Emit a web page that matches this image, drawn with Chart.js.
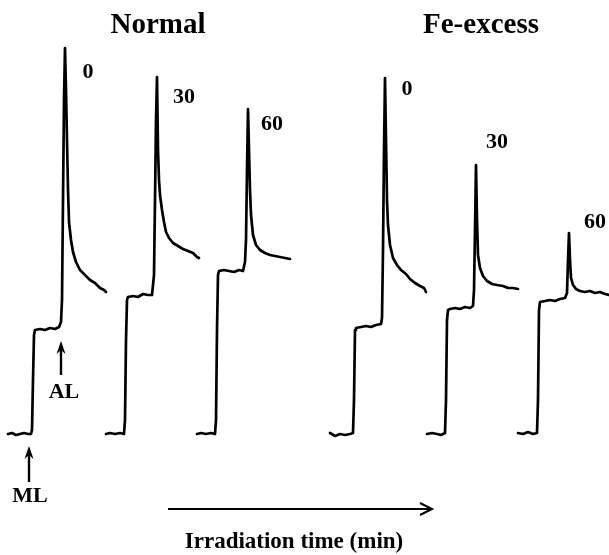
<!DOCTYPE html>
<html>
<head>
<meta charset="utf-8">
<script src="https://cdn.jsdelivr.net/npm/chart.js@4"></script>
<style>
  html, body { margin: 0; padding: 0; background: #fff; }
  #wrap { width: 609px; height: 555px; }
</style>
</head>
<body>
<div id="wrap"><canvas id="chart" width="609" height="555"></canvas></div>
<script>
// Fluorescence traces (relative time, fluorescence above dark baseline, arbitrary units)
const normal0Time = [0, 4, 8, 12, 16, 20, 23, 24, 25, 26, 27, 32, 37, 42, 47, 51, 53, 54, 55, 56, 57, 58, 59, 60, 61, 63, 65, 68, 72, 77, 82, 87, 92, 96, 98];
const normal0F = [0, 1, -1, 0, 1, 0, 0, 4, 54, 99, 104, 105, 104, 106, 105, 107, 112, 134, 234, 334, 386, 344, 294, 244, 212, 194, 182, 172, 164, 159, 154, 151, 146, 144, 142];

const normal30Time = [0, 4, 9, 14, 18, 19, 20, 21, 22, 27, 32, 37, 42, 46, 47, 48, 49, 50, 51, 52, 53, 54, 56, 58, 60, 63, 67, 72, 77, 82, 87, 91, 93];
const normal30F = [0, 1, 0, 1, 0, 14, 94, 134, 137, 138, 137, 140, 139, 139, 149, 159, 234, 314, 357, 284, 254, 239, 224, 212, 202, 196, 191, 188, 185, 183, 181, 177, 176];

const normal60Time = [0, 4, 9, 14, 18, 19, 20, 21, 22, 27, 32, 37, 42, 46, 48, 49, 50, 51, 52, 53, 54, 56, 59, 63, 68, 73, 78, 83, 88, 93];
const normal60F = [0, 1, 0, 1, 0, 14, 104, 159, 163, 164, 163, 162, 164, 163, 172, 194, 264, 325, 284, 244, 219, 199, 189, 184, 181, 179, 178, 177, 176, 175];

const fe0Time = [0, 5, 10, 15, 20, 23, 24, 25, 26, 31, 36, 41, 46, 51, 52, 53, 54, 55, 56, 57, 58, 60, 63, 67, 71, 76, 80, 85, 90, 94, 96];
const fe0F = [1, -2, 0, -1, 0, 1, 34, 104, 106, 107, 108, 107, 109, 110, 116, 184, 284, 356, 294, 234, 209, 189, 176, 169, 164, 160, 155, 151, 148, 146, 142];

const fe30Time = [0, 5, 10, 14, 18, 19, 20, 21, 23, 28, 33, 38, 43, 46, 47, 48, 49, 50, 51, 53, 56, 60, 65, 70, 76, 81, 86, 91];
const fe30F = [0, 1, 0, -1, 1, 34, 114, 124, 125, 126, 125, 127, 126, 128, 144, 204, 269, 214, 179, 166, 158, 153, 150, 149, 148, 146, 146, 145];

const fe60Time = [0, 5, 10, 15, 19, 20, 21, 22, 27, 32, 37, 42, 47, 49, 50, 51, 52, 53, 55, 58, 62, 67, 72, 77, 82, 87, 91];
const fe60F = [1, 0, 2, 0, 1, 34, 124, 132, 133, 134, 133, 135, 136, 141, 174, 201, 174, 156, 149, 145, 143, 142, 143, 141, 142, 140, 139];

// Irradiation time labels (min)
const timeLabels = ['0', '30', '60', '0', '30', '60'];
const groupTitles = ['Normal', 'Fe-excess'];
const axisTitle = 'Irradiation time (min)';

// Layout: where each trace starts along the x axis, and label anchors
const traceStart = [8, 106, 197, 330, 427, 518];
const labelPos = [[88, 362], [184, 337], [272, 310], [407, 345], [497, 292], [595, 212]];

const traces = [
    [normal0Time, normal0F], [normal30Time, normal30F], [normal60Time, normal60F],
    [fe0Time, fe0F], [fe30Time, fe30F], [fe60Time, fe60F]
];

const datasets = traces.map(function (tr, i) {
    return {
        label: timeLabels[i],
        data: tr[0].map((t, j) => ({ x: traceStart[i] + t, y: tr[1][j] })),
        borderColor: '#000',
        borderWidth: 2.7,
        borderJoinStyle: 'round',
        borderCapStyle: 'round',
        pointRadius: 0,
        tension: 0,
        fill: false
    };
});

function upArrow(ctx, x, yTop, yBottom) {
    ctx.beginPath();
    ctx.moveTo(x, yBottom);
    ctx.lineTo(x, yTop + 6);
    ctx.lineWidth = 2.4;
    ctx.stroke();
    ctx.beginPath();
    ctx.moveTo(x, yTop);
    ctx.lineTo(x - 4.5, yTop + 13);
    ctx.lineTo(x, yTop + 9);
    ctx.lineTo(x + 4.5, yTop + 13);
    ctx.closePath();
    ctx.fill();
}

const annotations = {
    id: 'annotations',
    afterDatasetsDraw(chart) {
        const ctx = chart.ctx;
        const xs = chart.scales.x;
        const ys = chart.scales.y;
        ctx.save();
        ctx.fillStyle = '#000';
        ctx.strokeStyle = '#000';
        ctx.textAlign = 'center';
        ctx.textBaseline = 'middle';

        // time labels next to the peaks
        ctx.font = 'bold 22px "Liberation Serif", "Times New Roman", serif';
        timeLabels.forEach(function (lab, i) {
            ctx.fillText(lab, xs.getPixelForValue(labelPos[i][0]), ys.getPixelForValue(labelPos[i][1]));
        });

        // group titles
        ctx.textBaseline = 'alphabetic';
        ctx.font = 'bold 29px "Liberation Serif", "Times New Roman", serif';
        ctx.fillText(groupTitles[0], 158, 33);
        ctx.fillText(groupTitles[1], 481, 33);

        // ML / AL markers on the first trace
        const mlX = xs.getPixelForValue(traceStart[0] + 21);
        const alX = xs.getPixelForValue(traceStart[0] + 53);
        upArrow(ctx, mlX, 446, 482);
        upArrow(ctx, alX, 341, 375);
        ctx.font = 'bold 22px "Liberation Serif", "Times New Roman", serif';
        ctx.fillText('AL', alX + 3, 398);
        ctx.fillText('ML', mlX + 1, 502);

        // irradiation time arrow
        ctx.lineWidth = 2;
        ctx.beginPath();
        ctx.moveTo(168, 509);
        ctx.lineTo(432, 509);
        ctx.moveTo(420, 503);
        ctx.lineTo(432, 509);
        ctx.lineTo(420, 515);
        ctx.stroke();
        ctx.font = 'bold 23px "Liberation Serif", "Times New Roman", serif';
        ctx.fillText(axisTitle, 294, 548);
        ctx.restore();
    }
};

const chart = new Chart(document.getElementById('chart').getContext('2d'), {
    type: 'line',
    data: { datasets: datasets },
    options: {
        responsive: false,
        animation: false,
        layout: { padding: 0 },
        plugins: { legend: { display: false }, tooltip: { enabled: false } },
        scales: {
            x: { type: 'linear', min: 0, max: 609, display: false },
            y: { type: 'linear', min: -121, max: 434, display: false }
        }
    },
    plugins: [annotations]
});
</script>
</body>
</html>
